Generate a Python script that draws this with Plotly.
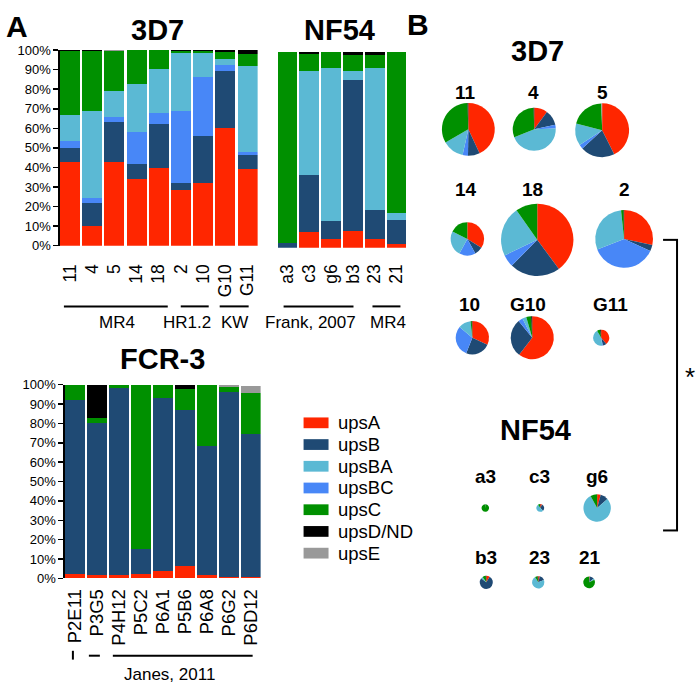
import plotly.graph_objects as go

W, H = 700, 695


def fx(x):
    return x / W


def fy(y):
    return 1 - y / H


# ---------------- data ----------------
stack_types = ["upsA", "upsB", "upsBC", "upsBA", "upsC", "upsD/ND", "upsE"]
legend_types = ["upsA", "upsB", "upsBA", "upsBC", "upsC", "upsD/ND", "upsE"]

# 3D7 (percent of sequences)
cats_3d7 = ["11", "4", "5", "14", "18", "2", "10", "G10", "G11"]
d7_A = [43.0, 10.0, 42.6, 34.0, 39.8, 28.4, 31.9, 60.4, 39.0]
d7_B = [7.2, 11.7, 20.6, 8.0, 22.6, 3.5, 24.1, 28.7, 7.5]
d7_BC = [3.3, 2.7, 2.5, 15.9, 5.5, 37.1, 30.1, 3.4, 1.3]
d7_BA = [13.1, 44.6, 13.4, 24.5, 22.4, 29.3, 12.2, 3.0, 43.8]
d7_C = [32.9, 30.5, 20.4, 17.6, 9.7, 1.4, 1.2, 3.7, 6.4]
d7_D = [0.5, 0.5, 0.0, 0.0, 0.0, 0.3, 0.5, 0.8, 2.0]
d7_E = [0.0, 0.0, 0.5, 0.0, 0.0, 0.0, 0.0, 0.0, 0.0]

# NF54
cats_nf54 = ["a3", "c3", "g6", "b3", "23", "21"]
nf_A = [0.0, 8.0, 4.2, 8.5, 4.2, 1.8]
nf_B = [2.5, 29.0, 9.3, 77.0, 15.0, 12.4]
nf_BC = [0.0, 0.0, 0.0, 0.0, 0.0, 0.0]
nf_BA = [0.0, 53.5, 78.5, 5.0, 72.4, 3.5]
nf_C = [97.5, 8.3, 8.0, 8.2, 6.7, 82.3]
nf_D = [0.0, 1.2, 0.0, 1.3, 1.7, 0.0]
nf_E = [0.0, 0.0, 0.0, 0.0, 0.0, 0.0]

# FCR-3
cats_fcr3 = ["P2E11", "P3G5", "P4H12", "P5C2", "P6A1", "P5B6", "P6A8", "P6G2", "P6D12"]
fc_A = [2.5, 1.5, 1.5, 2.5, 3.8, 6.3, 1.5, 0.5, 0.5]
fc_B = [89.5, 78.5, 97.0, 12.5, 89.2, 80.7, 67.0, 95.5, 74.0]
fc_BC = [0, 0, 0, 0, 0, 0, 0, 0, 0]
fc_BA = [0, 0, 0, 0, 0, 0, 0, 0, 0]
fc_C = [8.0, 3.0, 1.5, 85.0, 7.0, 11.0, 31.5, 3.0, 21.0]
fc_D = [0.0, 17.0, 0.0, 0.0, 0.0, 2.0, 0.0, 0.0, 0.0]
fc_E = [0.0, 0.0, 0.0, 0.0, 0.0, 0.0, 0.0, 1.0, 4.0]

# ---------------- styles ----------------
COL = {
    "upsA": "#FF2600",
    "upsB": "#1F4A74",
    "upsBA": "#5BB9D4",
    "upsBC": "#4887F7",
    "upsC": "#009000",
    "upsD/ND": "#000000",
    "upsE": "#999999",
}
FONT = "Arial, 'Liberation Sans', Helvetica, sans-serif"

s3d7 = dict(zip(stack_types, [d7_A, d7_B, d7_BC, d7_BA, d7_C, d7_D, d7_E]))
snf = dict(zip(stack_types, [nf_A, nf_B, nf_BC, nf_BA, nf_C, nf_D, nf_E]))
sfc = dict(zip(stack_types, [fc_A, fc_B, fc_BC, fc_BA, fc_C, fc_D, fc_E]))

fig = go.Figure()


def add_stack(cats, series, xa, ya):
    for t in stack_types:
        fig.add_trace(go.Bar(x=cats, y=series[t], name=t, xaxis=xa, yaxis=ya,
                             marker=dict(color=COL[t], line=dict(width=0)),
                             showlegend=False))


add_stack(cats_3d7, s3d7, "x", "y")
add_stack(cats_nf54, snf, "x2", "y2")
add_stack(cats_fcr3, sfc, "x3", "y3")

# ---------------- pies (panel B) ----------------
pie_3d7_center = [(468, 125), (534, 125), (602, 126),
                  (467, 237), (537, 238), (624, 237),
                  (472, 338), (532, 338), (601, 338)]
pie_3d7_radius = [27, 22, 27.5, 17, 37, 29.5, 17, 22, 8.2]
pie_3d7_label_pos = [(465, 87), (533, 87), (602, 87),
                     (466, 187), (532, 187), (624, 187),
                     (469, 304), (528, 304), (610, 304)]

pie_nf_center = [(485, 512), (540, 512), (597, 512),
                 (486, 588), (538, 588), (589, 588)]
pie_nf_radius = [3.8, 4.0, 14.0, 6.7, 6.3, 6.0]
pie_nf_label_pos = [(485, 480), (539, 480), (597, 480),
                    (486, 563), (539, 563), (590, 563)]


def add_pie(series, i, center, r):
    cx, cy = center
    fig.add_trace(go.Pie(
        values=[series[t][i] for t in stack_types],
        labels=stack_types,
        marker=dict(colors=[COL[t] for t in stack_types], line=dict(width=0)),
        sort=False, direction="clockwise", rotation=0,
        textinfo="none", showlegend=False,
        domain=dict(x=[fx(cx - r), fx(cx + r)], y=[fy(cy + r), fy(cy - r)]),
    ))


for i in range(len(cats_3d7)):
    add_pie(s3d7, i, pie_3d7_center[i], pie_3d7_radius[i])
for i in range(len(cats_nf54)):
    add_pie(snf, i, pie_nf_center[i], pie_nf_radius[i])

# ---------------- annotations ----------------
ann = []


def text(x, y, s, size, bold=False, anchor="center"):
    ann.append(dict(x=fx(x), y=fy(y), xref="paper", yref="paper", showarrow=False,
                    text=f"<b>{s}</b>" if bold else s, xanchor=anchor, yanchor="middle",
                    font=dict(family=FONT, size=size, color="black")))


text(16, 20, "A", 30, True)
text(157, 24, "3D7", 29, True)
text(339, 24, "NF54", 29, True)
text(162, 360, "FCR-3", 29, True)
text(418, 18, "B", 30, True)
text(537, 45, "3D7", 29, True)
text(535, 432, "NF54", 29, True)
text(690, 378, "*", 26)

for lab, (x, y) in zip(cats_3d7, pie_3d7_label_pos):
    text(x, y, lab, 19, True)
for lab, (x, y) in zip(cats_nf54, pie_nf_label_pos):
    text(x, y, lab, 19, True)

# group labels under bars
group_labels = [("MR4", 116, 322), ("HR1.2", 186, 322), ("KW", 234, 322),
                ("Frank, 2007", 310, 322), ("MR4", 388, 322), ("Janes, 2011", 169, 682)]
for s, x, y in group_labels:
    text(x, y, s, 17)

shapes = []


def hline(x0, x1, y, w=2):
    shapes.append(dict(type="line", xref="paper", yref="paper", x0=fx(x0), x1=fx(x1),
                       y0=fy(y), y1=fy(y), line=dict(color="black", width=w)))


def vline(x, y0, y1, w=2):
    shapes.append(dict(type="line", xref="paper", yref="paper", x0=fx(x), x1=fx(x),
                       y0=fy(y0), y1=fy(y1), line=dict(color="black", width=w)))


for x0, x1 in [(63, 167), (180, 208), (219, 248), (283, 353), (372, 400)]:
    hline(x0, x1, 306)
vline(72, 658, 667)
for x0, x1 in [(88, 99), (112, 252)]:
    hline(x0, x1, 663)

# significance bracket
hline(663, 678, 238)
hline(663, 678, 535)
vline(677, 238, 535)

# legend (manual)
leg_y0, leg_dy = 425, 22.2
for k, t in enumerate(legend_types):
    yc = leg_y0 + k * leg_dy
    shapes.append(dict(type="rect", xref="paper", yref="paper", x0=fx(303), x1=fx(328),
                       y0=fy(yc + 5.5), y1=fy(yc - 5.5), fillcolor=COL[t], line=dict(width=0)))
    text(335, yc, t, 18.5, anchor="left")

# ---------------- layout ----------------
ytick = dict(range=[0, 100], dtick=10, ticksuffix="%", showgrid=False, zeroline=False,
             showline=True, linecolor="black", linewidth=1.5, ticks="outside",
             ticklen=5, tickwidth=1.5, tickcolor="black",
             tickfont=dict(family=FONT, size=13, color="black"), fixedrange=True)
xcat = dict(type="category", showgrid=False, zeroline=False, showline=False,
            ticks="", tickangle=-90, tickfont=dict(family=FONT, size=17.5, color="black"),
            fixedrange=True)

fig.update_layout(
    width=W, height=H, autosize=False,
    margin=dict(l=0, r=0, t=0, b=0, pad=0),
    paper_bgcolor="white", plot_bgcolor="white",
    barmode="stack", bargap=0.1,
    font=dict(family=FONT, color="black"),
    xaxis=dict(xcat, domain=[fx(59), fx(257)], anchor="y", range=[-0.45, 8.45],
               tickmode="array", tickvals=cats_3d7, ticktext=cats_3d7,
               ticklabelstandoff=14),
    yaxis=dict(ytick, domain=[fy(244), fy(44)], anchor="x"),
    xaxis2=dict(xcat, domain=[fx(277), fx(406)], anchor="y2", range=[-0.45, 5.45],
                tickmode="array", tickvals=cats_nf54, ticktext=cats_nf54,
                ticklabelstandoff=12),
    yaxis2=dict(domain=[fy(246), fy(46)], anchor="x2", range=[0, 100], visible=False,
                fixedrange=True),
    xaxis3=dict(xcat, domain=[fx(64), fx(260)], anchor="y3", range=[-0.45, 8.45],
                tickmode="array", tickvals=cats_fcr3, ticktext=cats_fcr3,
                tickfont=dict(family=FONT, size=18.5, color="black"), ticklabelstandoff=6),
    yaxis3=dict(ytick, domain=[fy(584), fy(386)], anchor="x3"),
    annotations=ann,
    shapes=shapes,
)

fig.write_html("out.html", config={"displayModeBar": False, "staticPlot": True},
               post_script="document.body.style.margin='0px';document.body.style.padding='0px';")
